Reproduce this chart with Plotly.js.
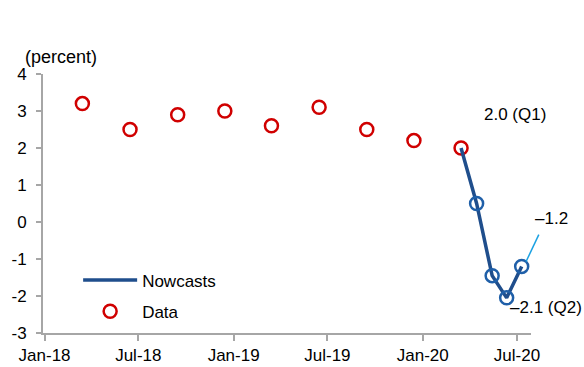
<!DOCTYPE html>
<html>
<head>
<meta charset="utf-8">
<script src="https://cdn.plot.ly/plotly-3.0.1.min.js"></script>
<style>html,body{margin:0;padding:0;background:#fff;}#chart{width:584px;height:367px;}</style>
</head>
<body>
<div id="chart"></div>
<script>
// Quarterly data (red open circles)
const dataDates = ['2018-03-15','2018-06-15','2018-09-15','2018-12-15','2019-03-15','2019-06-15','2019-09-15','2019-12-15','2020-03-15'];
const dataValues = [3.2, 2.5, 2.9, 3.0, 2.6, 3.1, 2.5, 2.2, 2.0];

// Nowcasts (starting from the Q1 data point)
const nowcastDates = ['2020-03-15','2020-04-14','2020-05-14','2020-06-11','2020-07-10'];
const nowcastValues = [2.0, 0.5, -1.45, -2.05, -1.2];

// Axis ticks
const xTickVals = ['2018-01-01','2018-07-01','2019-01-01','2019-07-01','2020-01-01','2020-07-01'];
const xTickText = ['Jan-18','Jul-18','Jan-19','Jul-19','Jan-20','Jul-20'];
const yTickVals = [-3,-2,-1,0,1,2,3,4];
const yTickText = ['-3','-2','-1','0','1','2','3','4'];

const font = 'Liberation Sans, Arial, sans-serif';
const red = '#d00000';
const navy = '#1f4e8c';
const blue = '#1f5fa8';

const traces = [
  {
    x: dataDates, y: dataValues, name: 'Data', type: 'scatter', mode: 'markers',
    marker: {symbol: 'circle-open', size: 13, color: red, line: {width: 2.5, color: red}},
    legendgroup: 'b', legendrank: 2, cliponaxis: false
  },
  {
    x: nowcastDates, y: nowcastValues, name: 'Nowcasts', type: 'scatter', mode: 'lines',
    line: {color: navy, width: 3.5},
    legendgroup: 'a', legendrank: 1, cliponaxis: false
  },
  {
    x: nowcastDates.slice(1), y: nowcastValues.slice(1), name: 'Nowcasts', type: 'scatter', mode: 'markers',
    marker: {symbol: 'circle-open', size: 13, color: blue, line: {width: 2.5, color: blue}},
    showlegend: false, cliponaxis: false
  }
];

const layout = {
  width: 584, height: 367,
  margin: {l: 43, r: 53, t: 74, b: 34},
  paper_bgcolor: '#ffffff', plot_bgcolor: '#ffffff',
  font: {family: font, size: 17, color: '#000'},
  showlegend: true,
  legend: {
    x: 0.072, y: 0.272, xanchor: 'left', yanchor: 'top',
    traceorder: 'grouped', tracegroupgap: 6,
    font: {family: font, size: 17, color: '#000'},
    bgcolor: 'rgba(0,0,0,0)', itemwidth: 54
  },
  xaxis: {
    type: 'date', range: ['2017-12-29','2020-07-28'],
    tickmode: 'array', tickvals: xTickVals, ticktext: xTickText,
    showgrid: false, zeroline: false,
    showline: true, linecolor: '#a6a6a6', linewidth: 2,
    ticks: 'outside', ticklen: 6, tickwidth: 2, tickcolor: '#a6a6a6',
    tickfont: {family: font, size: 17, color: '#000'}
  },
  yaxis: {
    range: [-3, 4],
    tickmode: 'array', tickvals: yTickVals, ticktext: yTickText,
    showgrid: false, zeroline: false,
    showline: true, linecolor: '#a6a6a6', linewidth: 2,
    ticks: 'outside', ticklen: 5, tickwidth: 2, tickcolor: '#a6a6a6',
    ticklabelstandoff: 6,
    tickfont: {family: font, size: 17, color: '#000'}
  },
  annotations: [
    {text: '(percent)', xref: 'paper', yref: 'paper', x: 0.037, y: 1.067, xanchor: 'center', yanchor: 'middle', showarrow: false, font: {size: 18}},
    {text: '2.0 (Q1)', xref: 'paper', yref: 'paper', x: 0.967, y: 0.842, xanchor: 'center', yanchor: 'middle', showarrow: false},
    {text: '\u20131.2', xref: 'paper', yref: 'paper', x: 1.042, y: 0.444, xanchor: 'center', yanchor: 'middle', showarrow: false},
    {text: '\u20132.1 (Q2)', xref: 'paper', yref: 'paper', x: 1.03, y: 0.10, xanchor: 'center', yanchor: 'middle', showarrow: false}
  ],
  shapes: [
    {type: 'line', xref: 'paper', yref: 'paper', x0: 0.990, y0: 0.276, x1: 1.016, y1: 0.380,
     line: {color: '#1ba1e2', width: 1.5}}
  ]
};

Plotly.newPlot('chart', traces, layout, {displayModeBar: false, staticPlot: true});
</script>
</body>
</html>
